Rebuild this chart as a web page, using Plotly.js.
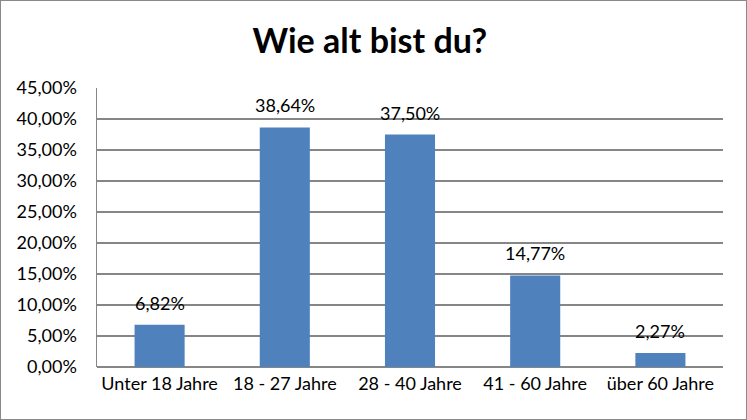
<!DOCTYPE html>
<html>
<head>
<meta charset="utf-8">
<script src="https://cdn.plot.ly/plotly-3.0.1.min.js"></script>
<style>
  html, body { margin: 0; padding: 0; background: #fff; }
  #chart { width: 745px; height: 418px; border: 1px solid #8a8a8a; }
</style>
</head>
<body>
<div id="chart"></div>
<script>
// Age survey chart ----------------------------------------------------------
const categories = ['Unter 18 Jahre', '18 - 27 Jahre', '28 - 40 Jahre', '41 - 60 Jahre', 'über 60 Jahre'];
const shares = [6.82, 38.64, 37.50, 14.77, 2.27];
const yTicks = [0, 5, 10, 15, 20, 25, 30, 35, 40, 45];

const font = '"Lato", "Open Sans", sans-serif';
const gridColor = '#868686';
const pct = v => v.toFixed(2).replace('.', ',') + '%';

// value labels sit a little above each bar
const labels = categories.map((c, i) => ({
    x: c, y: shares[i], xref: 'x', yref: 'y',
    text: pct(shares[i]),
    showarrow: false, yanchor: 'bottom', yshift: 9,
    font: { family: font, size: 18, color: '#000' },
}));

Plotly.newPlot('chart', [{
    type: 'bar', x: categories, y: shares,
    marker: { color: '#4f81bd' },
    hoverinfo: 'skip',
}], {
    width: 745, height: 418,
    paper_bgcolor: '#fff', plot_bgcolor: '#fff',
    font: { family: font, size: 18, color: '#000' },
    margin: { l: 96, r: 23, t: 87, b: 52 },
    bargap: 0.6,
    title: {
        text: '<b>Wie alt bist du?</b>',
        font: { family: font, size: 34, color: '#000' },
        x: 0.495, xanchor: 'center', y: 0.905, yanchor: 'middle',
    },
    xaxis: {
        type: 'category', showgrid: false, zeroline: false,
        showline: false, ticks: '', ticklabelstandoff: 4,
        tickfont: { family: font, size: 18, color: '#000' },
    },
    yaxis: {
        range: [0, 45], tickvals: yTicks, ticktext: yTicks.map(pct),
        showgrid: true, gridcolor: gridColor, gridwidth: 1.5,
        zeroline: true, zerolinecolor: gridColor, zerolinewidth: 1.5,
        showline: true, linecolor: gridColor, linewidth: 1.5,
        ticks: '', ticklabelstandoff: 15,
        tickfont: { family: font, size: 18, color: '#000' },
    },
    annotations: labels,
    showlegend: false,
}, { displayModeBar: false, staticPlot: true });
</script>
</body>
</html>
